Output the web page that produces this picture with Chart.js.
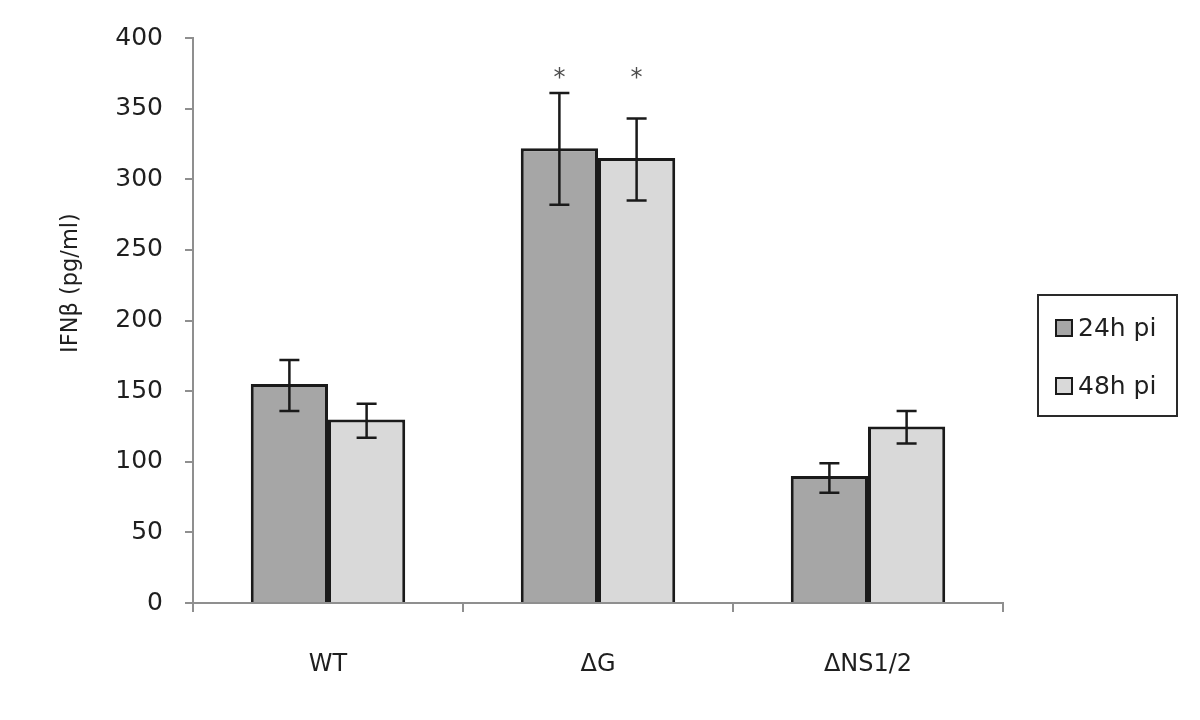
<!DOCTYPE html>
<html>
<head>
<meta charset="utf-8">
<script src="https://cdn.jsdelivr.net/npm/chart.js@4/dist/chart.umd.min.js"></script>
<style>
  html, body { margin: 0; padding: 0; background: #ffffff; }
  #wrap { width: 1200px; height: 720px; }
</style>
</head>
<body>
<div id="wrap"><canvas id="c" width="1200" height="720"></canvas></div>
<script>
// ---- data ----
const categories = ['WT', '\u0394G', '\u0394NS1/2'];
const seriesNames = ['24h pi', '48h pi'];
const values24 = [155, 322, 90];
const values48 = [130, 315, 125];
const errLow24 = [136, 282, 78];
const errHigh24 = [172, 361, 99];
const errLow48 = [117, 285, 113];
const errHigh48 = [141, 343, 136];
const significance = ['', '*', ''];          // per category, marks both bars
const yTicks = [0, 50, 100, 150, 200, 250, 300, 350, 400];
const yTitle = 'IFN\u03b2 (pg/ml)';

const FONT = 'DejaVu Sans';
const TEXT = '#1f1f1f';
const AXIS = '#8f8f8f';
const EDGE = '#1a1a1a';
const fill24 = '#a6a6a6';
const fill48 = '#d9d9d9';

const errs = [[errLow24, errHigh24], [errLow48, errHigh48]];

const extrasPlugin = {
  id: 'extras',
  afterDatasetsDraw(chart) {
    const ctx = chart.ctx;
    const y = chart.scales.y;
    // error bars
    chart.data.datasets.forEach((ds, di) => {
      const meta = chart.getDatasetMeta(di);
      const [lo, hi] = errs[di];
      meta.data.forEach((bar, i) => {
        const x = bar.x;
        const yl = y.getPixelForValue(lo[i]);
        const yh = y.getPixelForValue(hi[i]);
        ctx.save();
        ctx.strokeStyle = EDGE;
        ctx.lineWidth = 2.5;
        ctx.beginPath();
        ctx.moveTo(x, yl); ctx.lineTo(x, yh);
        ctx.moveTo(x - 10, yl); ctx.lineTo(x + 10, yl);
        ctx.moveTo(x - 10, yh); ctx.lineTo(x + 10, yh);
        ctx.stroke();
        ctx.restore();
      });
    });
    // significance marks
    significance.forEach((mark, i) => {
      if (!mark) return;
      const top = Math.max(errHigh24[i], errHigh48[i]);
      const py = y.getPixelForValue(top) - 22;
      chart.data.datasets.forEach((ds, di) => {
        const bar = chart.getDatasetMeta(di).data[i];
        ctx.save();
        ctx.fillStyle = '#4d4d4d';
        ctx.font = '24px "' + FONT + '"';
        ctx.textAlign = 'center';
        ctx.textBaseline = 'alphabetic';
        ctx.fillText(mark, bar.x, py + 14);
        ctx.restore();
      });
    });
  },
  afterDraw(chart) {
    const ctx = chart.ctx;
    // y title
    ctx.save();
    ctx.translate(71, 283);
    ctx.rotate(-Math.PI / 2);
    ctx.fillStyle = TEXT;
    ctx.font = '22.5px "' + FONT + '"';
    ctx.textAlign = 'center';
    ctx.textBaseline = 'middle';
    ctx.fillText(yTitle, 0, 0);
    ctx.restore();
    // legend
    ctx.save();
    ctx.strokeStyle = '#2a2a2a';
    ctx.lineWidth = 2;
    ctx.strokeRect(1038, 295, 139, 121);
    const fills = [fill24, fill48];
    const ys = [328, 386];
    seriesNames.forEach((name, i) => {
      ctx.fillStyle = fills[i];
      ctx.fillRect(1056, ys[i] - 8, 16, 16);
      ctx.strokeStyle = EDGE;
      ctx.lineWidth = 2;
      ctx.strokeRect(1056, ys[i] - 8, 16, 16);
      ctx.fillStyle = TEXT;
      ctx.font = '25px "' + FONT + '"';
      ctx.textAlign = 'left';
      ctx.textBaseline = 'middle';
      ctx.fillText(name, 1078, ys[i] + 1);
    });
    ctx.restore();
  }
};

new Chart(document.getElementById('c'), {
  type: 'bar',
  data: {
    labels: categories,
    datasets: [
      { label: seriesNames[0], data: values24, backgroundColor: fill24, borderColor: EDGE, borderWidth: 3,
        categoryPercentage: 0.572, barPercentage: 1.0 },
      { label: seriesNames[1], data: values48, backgroundColor: fill48, borderColor: EDGE, borderWidth: 3,
        categoryPercentage: 0.572, barPercentage: 1.0 }
    ]
  },
  options: {
    responsive: false,
    animation: false,
    devicePixelRatio: 1,
    layout: { padding: { left: 0, right: 197, top: 38, bottom: 0 } },
    plugins: { legend: { display: false }, tooltip: { enabled: false } },
    scales: {
      x: {
        afterFit(s) { s.height = 117; },
        grid: { offset: true, drawOnChartArea: false, drawTicks: true, tickLength: 9, color: AXIS, lineWidth: 2 },
        border: { display: true, color: AXIS, width: 2 },
        ticks: { color: TEXT, font: { family: FONT, size: 24 }, padding: 38 }
      },
      y: {
        min: 0, max: 400,
        afterFit(s) { s.width = 193; },
        afterBuildTicks(s) { s.ticks = yTicks.map(v => ({ value: v })); },
        grid: { drawOnChartArea: false, drawTicks: true, tickLength: 8, color: AXIS, lineWidth: 2 },
        border: { display: true, color: AXIS, width: 2 },
        ticks: { color: TEXT, font: { family: FONT, size: 25 }, padding: 22 }
      }
    }
  },
  plugins: [extrasPlugin]
});
</script>
</body>
</html>
